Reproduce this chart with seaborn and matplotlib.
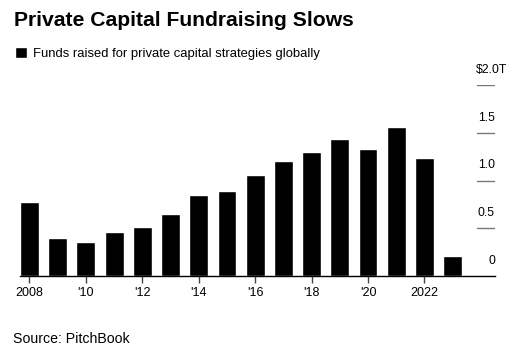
import matplotlib
matplotlib.use("Agg")
import matplotlib.pyplot as plt
import matplotlib.transforms as mtransforms
import pandas as pd
import seaborn as sns

# funds raised, trillions of USD
years = list(range(2008, 2024))
funds_raised = [0.78, 0.40, 0.36, 0.46, 0.51, 0.65, 0.85, 0.89,
                1.06, 1.20, 1.30, 1.43, 1.33, 1.56, 1.24, 0.21]
year_labels = ["2008", "'10", "'12", "'14", "'16", "'18", "'20", "2022"]
y_ticks = [0, 0.5, 1.0, 1.5, 2.0]
y_tick_labels = ["0", "0.5", "1.0", "1.5", "$2.0T"]

df = pd.DataFrame({"year": [str(y) for y in years], "funds": funds_raised})

sns.set_style("white")
plt.rcParams["font.family"] = ["Liberation Sans", "DejaVu Sans"]
plt.rcParams["text.color"] = "black"

W, H = 519, 356
fig = plt.figure(figsize=(W / 100, H / 100), dpi=100)
ax = fig.add_axes([20 / W, (H - 276) / H, 475 / W, (276 - 85) / H])

sns.barplot(data=df, x="year", y="funds", color="black", width=0.67,
            saturation=1, ax=ax, label="Funds raised for private capital strategies globally")

ax.set_xlim(-0.335, 16.5)
ax.set_ylim(0, 2.0)
ax.set_xlabel("")
ax.set_ylabel("")

for s in ["top", "left", "right"]:
    ax.spines[s].set_visible(False)
ax.spines["bottom"].set_color("black")
ax.spines["bottom"].set_linewidth(1)

ax.set_xticks(range(0, 16, 2))
ax.set_xticklabels(year_labels, fontsize=9, color="black")
ax.tick_params(axis="x", length=5, width=1, color="#444444", pad=3, bottom=True)
ax.set_yticks([])

# short grid segments + labels on the right side
label_tf = mtransforms.offset_copy(ax.get_yaxis_transform(), fig=fig, x=0, y=9, units="dots")
for val, lab in zip(y_ticks, y_tick_labels):
    if val > 0:
        ax.axhline(val, xmin=0.962, xmax=1.0, color="#777777", lw=1)
    if lab.endswith("T"):
        ax.text(1.025, val, lab, transform=label_tf, ha="right", va="bottom", fontsize=8.8)
    else:
        ax.text(1.0, val, lab, transform=label_tf, ha="right", va="bottom", fontsize=8.8)

fig.text(14 / W, 1 - 21 / H, "Private Capital Fundraising Slows", fontsize=15.2,
         fontweight="bold", va="center", ha="left", color="black")

ax.legend(loc="upper left", bbox_to_anchor=(15 / W, 1 - 47 / H), bbox_transform=fig.transFigure,
          frameon=False, fontsize=9.4, handlelength=0.9, handleheight=0.9,
          handletextpad=0.45, borderpad=0, borderaxespad=0, labelcolor="black")

fig.text(13 / W, 1 - 339 / H, "Source: PitchBook", fontsize=10.2, va="center", ha="left",
         color="black")

fig.savefig("out.png", dpi=100)
plt.close(fig)
